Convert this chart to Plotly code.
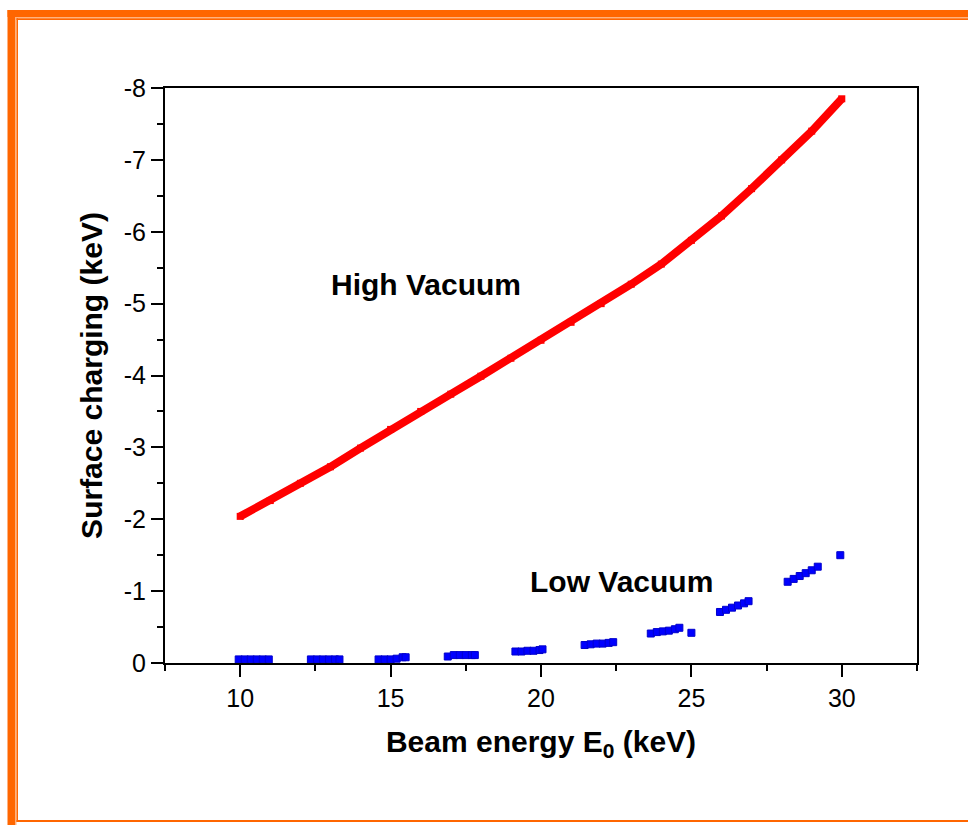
import plotly.graph_objects as go

# Beam energy (keV) and surface charging (keV)
high_vac_energy = [10, 11, 12, 13, 14, 15, 16, 17, 18, 19, 20,
                   21, 22, 23, 24, 25, 26, 27, 28, 29, 30]
high_vac_charge = [-2.04, -2.26, -2.50, -2.73, -2.99, -3.25, -3.50, -3.74, -3.99, -4.24, -4.49,
                   -4.74, -5.00, -5.27, -5.55, -5.88, -6.22, -6.60, -7.00, -7.40, -7.85]

low_vac_energy = [9.95, 10.15, 10.35, 10.55, 10.75, 10.95,
                  12.35, 12.55, 12.75, 12.95, 13.15, 13.30,
                  14.60, 14.80, 15.00, 15.20, 15.40, 15.50,
                  16.90, 17.10, 17.30, 17.50, 17.70, 17.80,
                  19.15, 19.35, 19.55, 19.75, 19.95, 20.05,
                  21.45, 21.65, 21.85, 22.05, 22.25, 22.40,
                  23.65, 23.85, 24.05, 24.25, 24.45, 24.60,
                  25.00,
                  25.95, 26.15, 26.35, 26.55, 26.75, 26.90,
                  28.20, 28.40, 28.60, 28.80, 29.00, 29.20,
                  29.95]
low_vac_charge = [-0.05, -0.05, -0.05, -0.05, -0.05, -0.05,
                  -0.05, -0.05, -0.05, -0.05, -0.05, -0.05,
                  -0.05, -0.05, -0.05, -0.06, -0.08, -0.08,
                  -0.09, -0.11, -0.11, -0.11, -0.11, -0.11,
                  -0.16, -0.16, -0.17, -0.17, -0.18, -0.19,
                  -0.25, -0.26, -0.27, -0.27, -0.28, -0.29,
                  -0.41, -0.43, -0.44, -0.45, -0.47, -0.49,
                  -0.42,
                  -0.71, -0.74, -0.77, -0.80, -0.83, -0.86,
                  -1.13, -1.17, -1.21, -1.25, -1.29, -1.34,
                  -1.50]

x_ticks = [10, 15, 20, 25, 30]
y_ticks = [0, -1, -2, -3, -4, -5, -6, -7, -8]

W, H = 968, 825
L, R, T, B = 165, 917, 88, 663
FONT = "Liberation Sans, Arial, sans-serif"
ORANGE = "#FF6600"
PALE = "#FFB27F"


def px(x):
    return (x - L) / (R - L)


def py(y):
    return (B - y) / (B - T)


fig = go.Figure()

fig.add_trace(go.Scatter(
    x=high_vac_energy, y=high_vac_charge, mode="lines+markers",
    line=dict(color="#FF0000", width=8),
    marker=dict(symbol="square", size=7, color="#FF0000"),
    showlegend=False,
))
fig.add_trace(go.Scatter(
    x=low_vac_energy, y=low_vac_charge, mode="markers",
    marker=dict(symbol="square", size=7, color="#0000FF",
                line=dict(color="#0000CC", width=1)),
    showlegend=False,
))

fig.add_annotation(x=16.18, y=-5.26, text="<b>High Vacuum</b>", showarrow=False,
                   font=dict(family=FONT, size=30, color="black"))
fig.add_annotation(x=22.69, y=-1.14, text="<b>Low Vacuum</b>", showarrow=False,
                   font=dict(family=FONT, size=30, color="black"))

# Orange page frame
frame = [
    # thick left band and top band
    dict(type="rect", x0=px(7.5), x1=px(15), y0=py(825), y1=py(10), fillcolor=ORANGE),
    dict(type="rect", x0=px(7.5), x1=px(968), y0=py(17), y1=py(10), fillcolor=ORANGE),
    # pale inner stripes
    dict(type="rect", x0=px(15), x1=px(16.5), y0=py(825), y1=py(17), fillcolor=PALE),
    dict(type="rect", x0=px(15), x1=px(968), y0=py(18.3), y1=py(17), fillcolor=PALE),
    # thin inner lines
    dict(type="rect", x0=px(16.5), x1=px(18), y0=py(822), y1=py(18.3), fillcolor=ORANGE),
    dict(type="rect", x0=px(16.5), x1=px(968), y0=py(20), y1=py(18.3), fillcolor=ORANGE),
    dict(type="rect", x0=px(16.5), x1=px(968), y0=py(822), y1=py(820), fillcolor=ORANGE),
]
for s in frame:
    fig.add_shape(**s, xref="paper", yref="paper", line=dict(width=0), layer="above")

axis_common = dict(
    showline=True, linecolor="black", linewidth=2, mirror=True,
    ticks="outside", ticklen=12, tickwidth=2, tickcolor="black",
    showgrid=False, zeroline=False,
    tickfont=dict(family=FONT, size=25, color="black"),
)

fig.update_xaxes(
    range=[7.5, 32.5], tickvals=x_ticks, ticktext=[str(v) for v in x_ticks],
    minor=dict(ticks="outside", ticklen=6, tickwidth=2, tickcolor="black",
               tick0=7.5, dtick=5),
    title=dict(text="<b>Beam energy E<sub>0</sub> (keV)</b>", standoff=20,
               font=dict(family=FONT, size=30, color="black")),
    **axis_common,
)
fig.update_yaxes(
    range=[0, -8], tickvals=y_ticks, ticktext=[str(v) for v in y_ticks],
    minor=dict(ticks="outside", ticklen=6, tickwidth=2, tickcolor="black",
               tick0=-0.5, dtick=1),
    title=dict(text="<b>Surface charging (keV)</b>", standoff=12,
               font=dict(family=FONT, size=30, color="black")),
    **axis_common,
)

fig.update_layout(
    width=W, height=H,
    margin=dict(l=L, r=W - R, t=T, b=H - B),
    paper_bgcolor="white", plot_bgcolor="white",
    font=dict(family=FONT),
)

fig.write_html("out.html")
